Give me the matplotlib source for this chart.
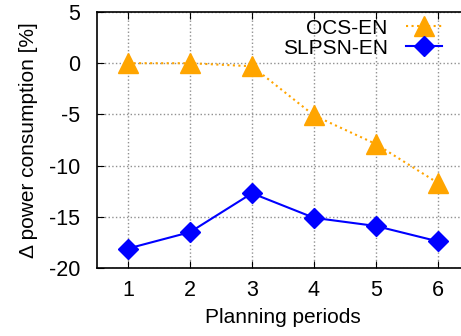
import matplotlib
matplotlib.use('Agg')
import matplotlib.pyplot as plt

periods = [1, 2, 3, 4, 5, 6]
ocs_en = [0.0, 0.0, -0.3, -5.1, -7.9, -11.7]
slpsn_en = [-18.1, -16.5, -12.7, -15.1, -15.9, -17.4]

plt.rcParams['font.family'] = ['Liberation Sans', 'DejaVu Sans']
plt.rcParams['axes.unicode_minus'] = False

fig = plt.figure(figsize=(4.61, 3.36), dpi=100)
ax = fig.add_axes([97 / 461, 1 - 268 / 336, 372 / 461, 256 / 336])

ax.plot(periods, ocs_en, color='#FFA500', linestyle=':', linewidth=1.5,
        marker='^', markersize=14, label='OCS-EN', clip_on=False, zorder=3)
ax.plot(periods, slpsn_en, color='#0000FF', linestyle='-', linewidth=1.5,
        marker='D', markersize=10, label='SLPSN-EN', clip_on=False, zorder=3)

ax.set_xlim(0.5, 6.5)
ax.set_ylim(-20, 5)
ax.set_xticks(periods)
ax.set_yticks([-20, -15, -10, -5, 0, 5])
ax.grid(True, color='#909090', linestyle=':', linewidth=1)
ax.tick_params(direction='in', length=5, top=True, right=True, labelsize=15.5)
ax.tick_params(axis='x', pad=9)
ax.tick_params(axis='y', pad=12)
for s in ax.spines.values():
    s.set_linewidth(1.2)

ax.set_xlabel('Planning periods', fontsize=15, labelpad=5)
ax.set_ylabel('\u0394 power consumption [%]', fontsize=15, labelpad=8)

ax.legend(loc='upper right', frameon=False, markerfirst=False, fontsize=15,
          handlelength=1.7, handletextpad=0.9, borderaxespad=0.1,
          labelspacing=0.05, bbox_to_anchor=(0.955, 1.015))

fig.savefig('out.png', dpi=100)
